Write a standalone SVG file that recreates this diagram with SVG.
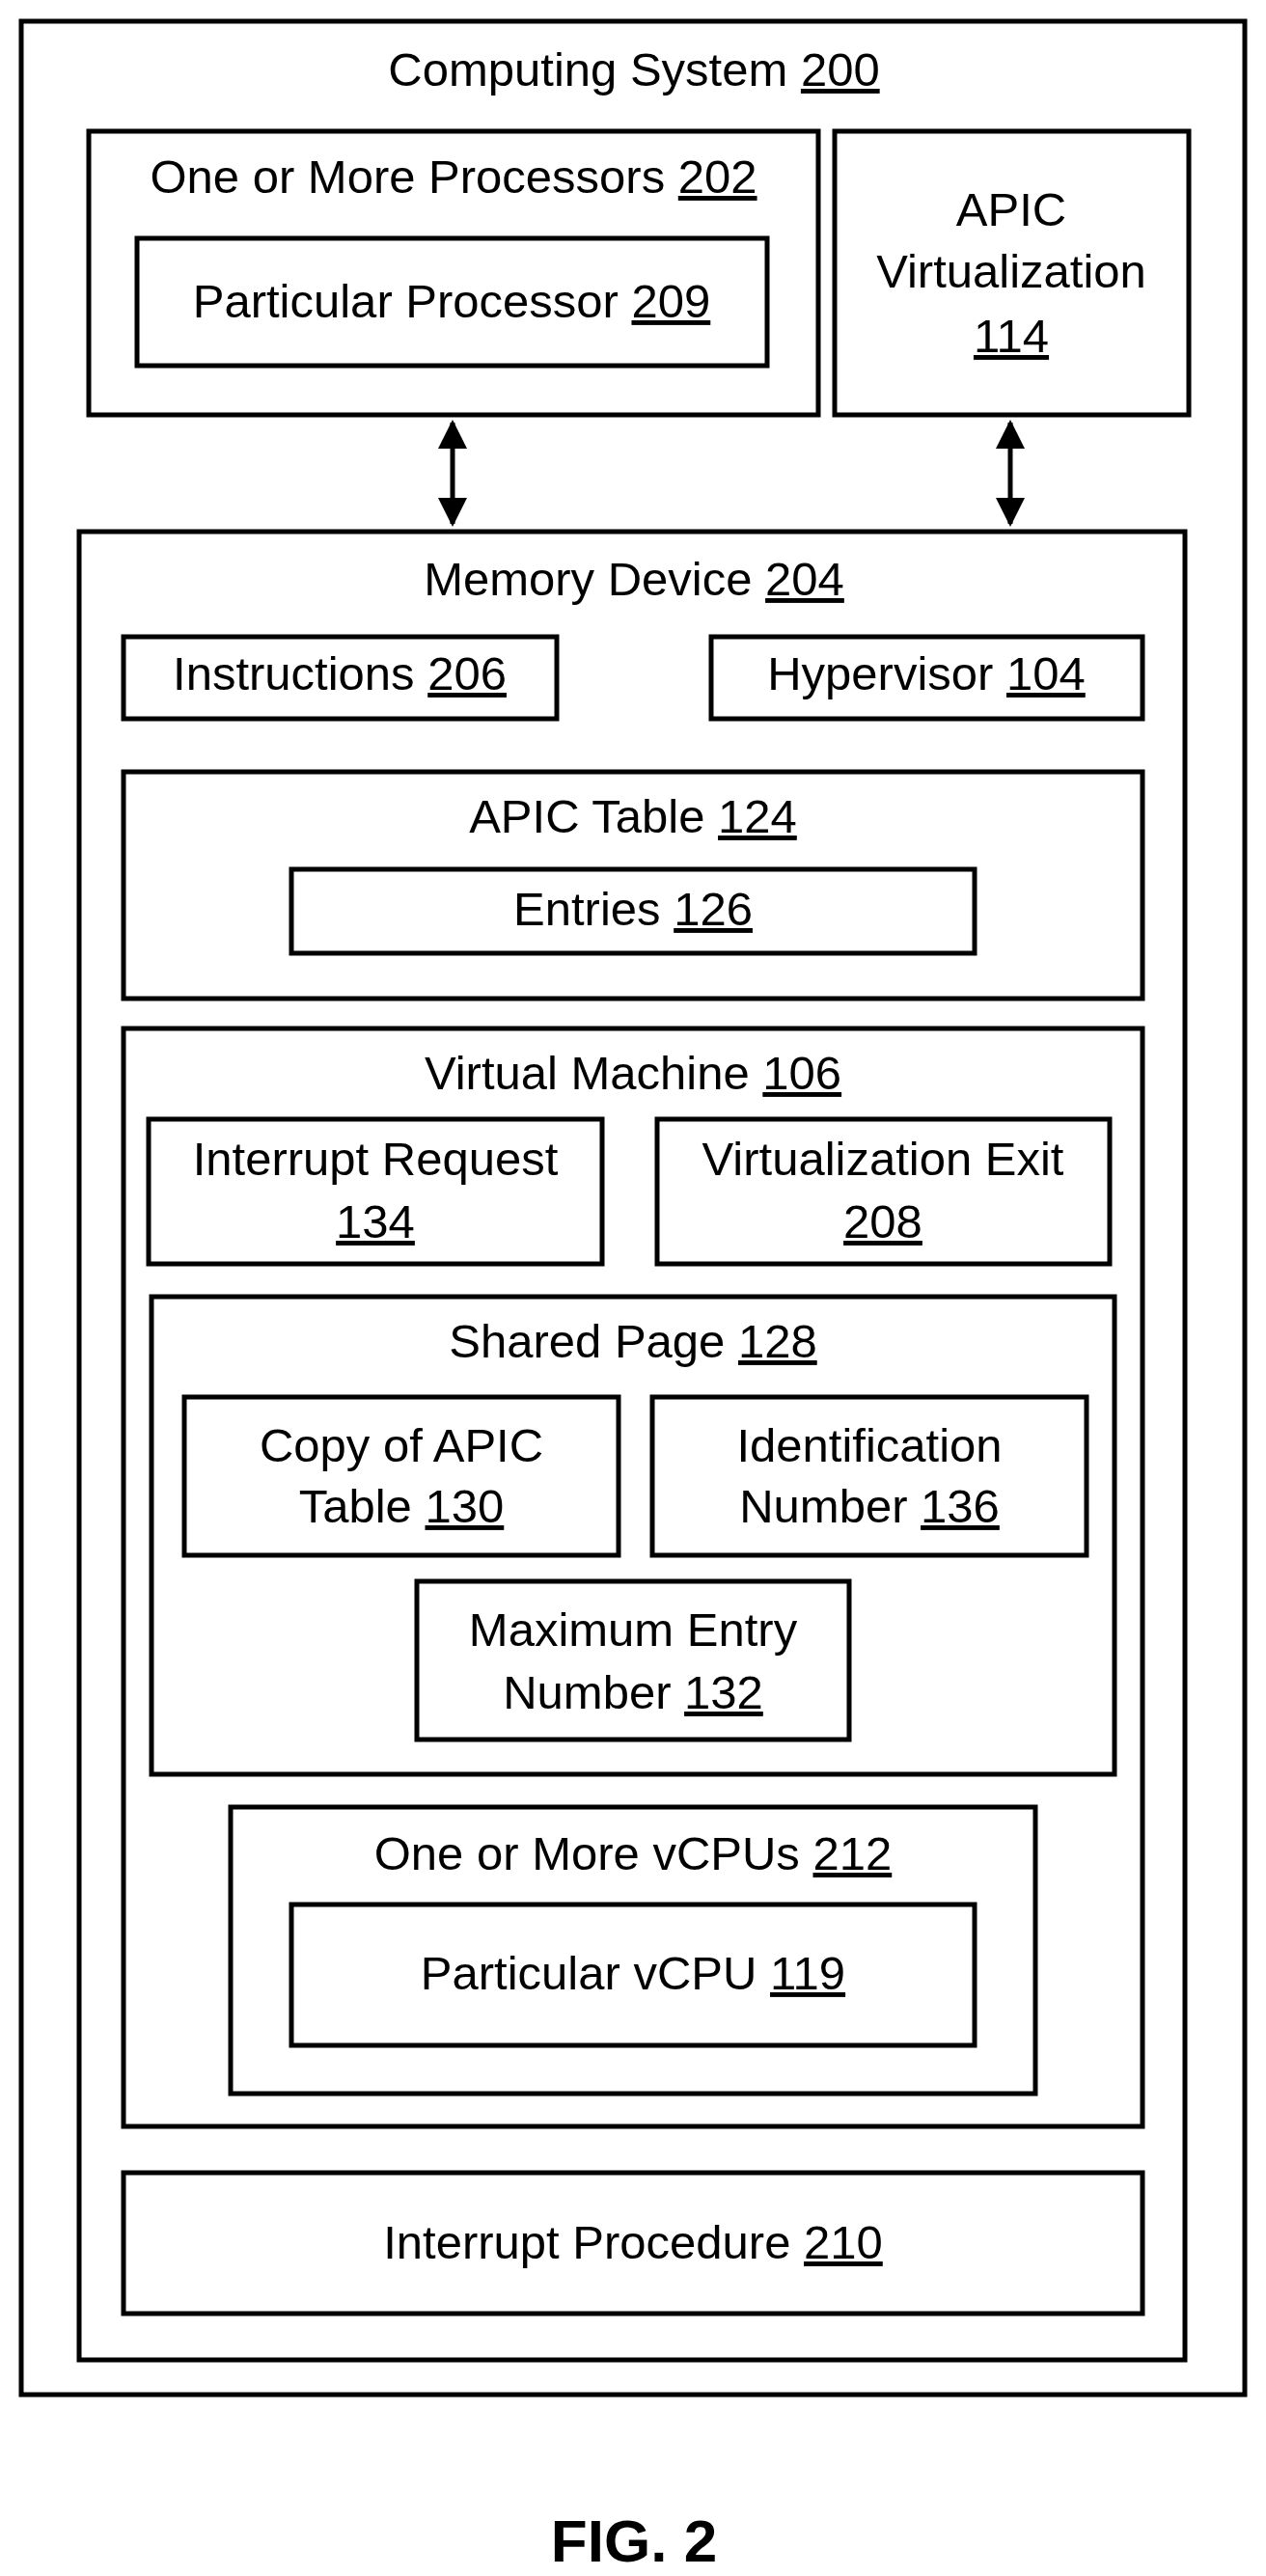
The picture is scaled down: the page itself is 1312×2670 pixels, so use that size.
<svg xmlns="http://www.w3.org/2000/svg" width="1312" height="2670" viewBox="0 0 1312 2670">
<style>
rect{fill:#fff;stroke:#000;stroke-width:5}
text{font-family:"Liberation Sans",Arial,sans-serif;font-size:49px;text-anchor:middle;fill:#000}
.u{text-decoration:underline}
</style>
<defs>
<marker id="ah" viewBox="0 0 10 10" refX="9" refY="5" markerWidth="6" markerHeight="6" orient="auto-start-reverse" markerUnits="strokeWidth"><path d="M0,0L10,5L0,10z" fill="#000"/></marker>
</defs>
<rect width="1312" height="2670" style="stroke:none"/>
<g id="computing"><rect x="22" y="22" width="1268" height="2460"/><text x="657" y="89">Computing System <tspan class="u">200</tspan></text></g>
<g id="processors"><rect x="92" y="136" width="756" height="294"/><text x="470" y="200">One or More Processors <tspan class="u">202</tspan></text></g>
<g id="particular"><rect x="142" y="247" width="653" height="132"/><text x="468" y="329">Particular Processor <tspan class="u">209</tspan></text></g>
<g id="apicvirt"><rect x="865" y="136" width="367" height="294"/><text x="1048" y="234">APIC</text><text x="1048" y="298">Virtualization</text><text x="1048" y="365"><tspan class="u">114</tspan></text></g>
<g id="connectors">
<line x1="469" y1="438" x2="469" y2="543" stroke="#000" stroke-width="5" marker-start="url(#ah)" marker-end="url(#ah)"/>
<line x1="1047" y1="438" x2="1047" y2="543" stroke="#000" stroke-width="5" marker-start="url(#ah)" marker-end="url(#ah)"/>
</g>
<g id="memory"><rect x="82" y="551" width="1146" height="1895"/><text x="657" y="617">Memory Device <tspan class="u">204</tspan></text></g>
<g id="instructions"><rect x="128" y="660" width="449" height="85"/><text x="352" y="715">Instructions <tspan class="u">206</tspan></text></g>
<g id="hypervisor"><rect x="737" y="660" width="447" height="85"/><text x="960" y="715">Hypervisor <tspan class="u">104</tspan></text></g>
<g id="apictable"><rect x="128" y="800" width="1056" height="235"/><text x="656" y="863">APIC Table <tspan class="u">124</tspan></text></g>
<g id="entries"><rect x="302" y="901" width="708" height="87"/><text x="656" y="959">Entries <tspan class="u">126</tspan></text></g>
<g id="vm"><rect x="128" y="1066" width="1056" height="1138"/><text x="656" y="1129">Virtual Machine <tspan class="u">106</tspan></text></g>
<g id="intreq"><rect x="154" y="1160" width="470" height="150"/><text x="389" y="1218">Interrupt Request</text><text x="389" y="1283"><tspan class="u">134</tspan></text></g>
<g id="virtexit"><rect x="681" y="1160" width="469" height="150"/><text x="915" y="1218">Virtualization Exit</text><text x="915" y="1283"><tspan class="u">208</tspan></text></g>
<g id="shared"><rect x="157" y="1344" width="998" height="495"/><text x="656" y="1407">Shared Page <tspan class="u">128</tspan></text></g>
<g id="copy"><rect x="191" y="1448" width="450" height="164"/><text x="416" y="1515">Copy of APIC</text><text x="416" y="1578">Table <tspan class="u">130</tspan></text></g>
<g id="ident"><rect x="676" y="1448" width="450" height="164"/><text x="901" y="1515">Identification</text><text x="901" y="1578">Number <tspan class="u">136</tspan></text></g>
<g id="maxentry"><rect x="432" y="1639" width="448" height="164"/><text x="656" y="1706">Maximum Entry</text><text x="656" y="1771">Number <tspan class="u">132</tspan></text></g>
<g id="vcpus"><rect x="239" y="1873" width="834" height="297"/><text x="656" y="1938">One or More vCPUs <tspan class="u">212</tspan></text></g>
<g id="vcpu"><rect x="302" y="1974" width="708" height="146"/><text x="656" y="2062">Particular vCPU <tspan class="u">119</tspan></text></g>
<g id="intproc"><rect x="128" y="2252" width="1056" height="146"/><text x="656" y="2341">Interrupt Procedure <tspan class="u">210</tspan></text></g>
<text x="657" y="2655" style="font-size:62px;font-weight:bold">FIG. 2</text>
</svg>
